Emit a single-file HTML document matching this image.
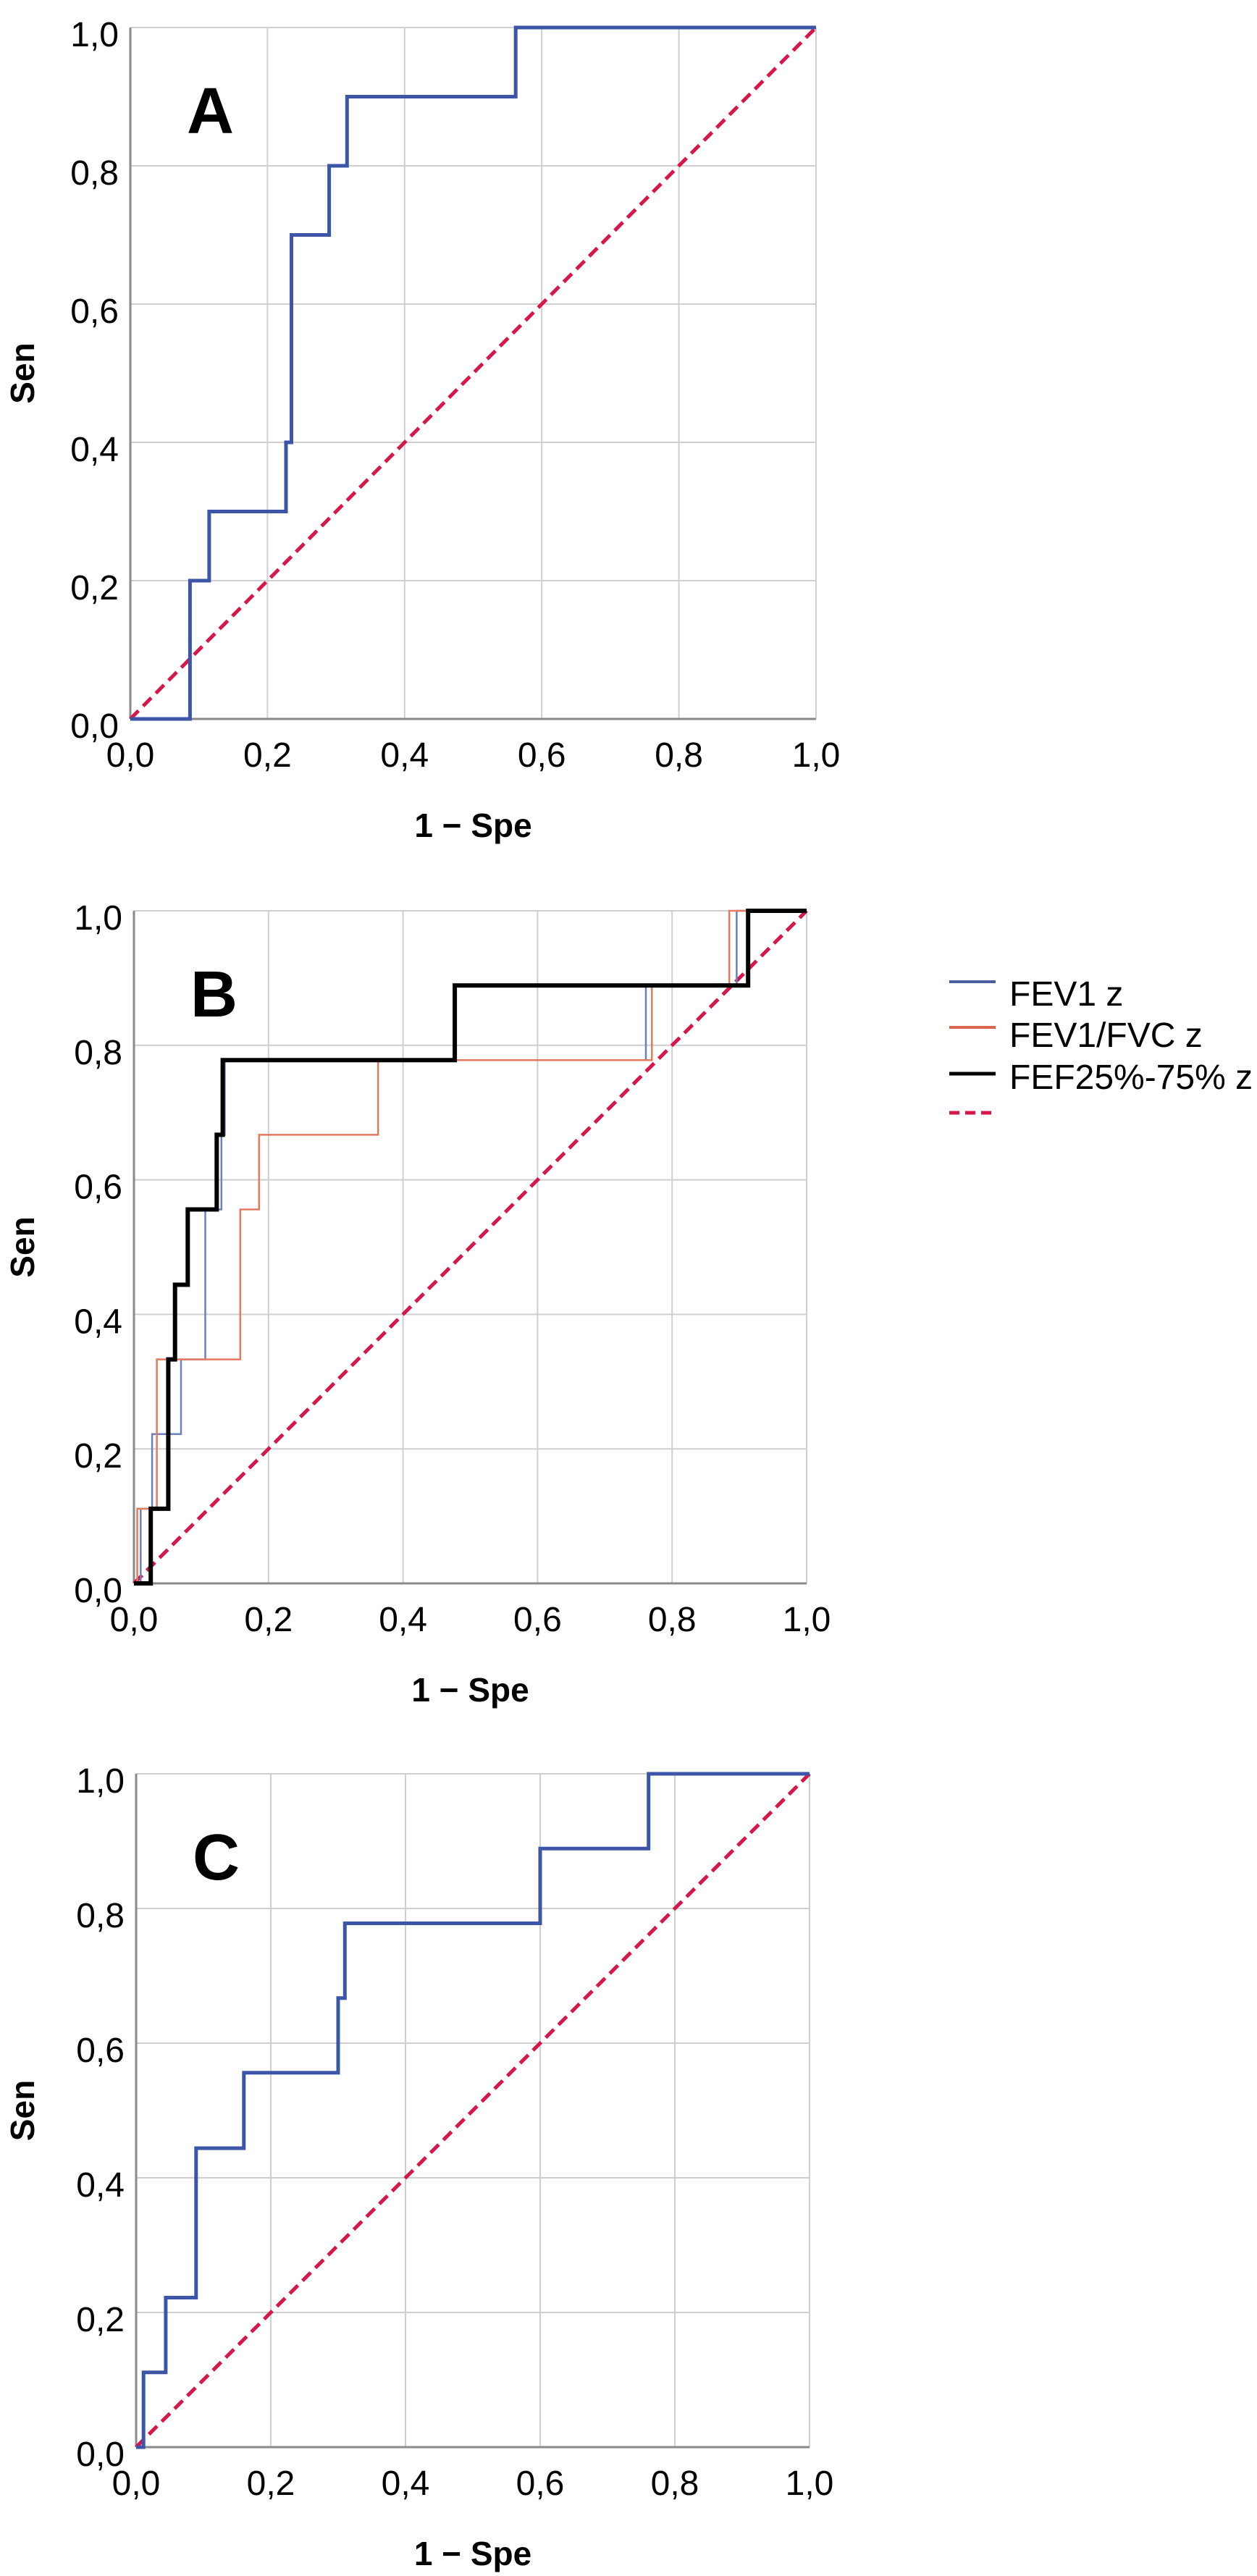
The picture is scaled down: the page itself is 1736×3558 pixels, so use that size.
<!DOCTYPE html>
<html><head><meta charset="utf-8">
<style>
html,body{margin:0;padding:0;background:#fff;}
svg{display:block;}
text{font-family:"Liberation Sans",Arial,sans-serif;}
</style></head>
<body>
<svg id="fig" width="1736" height="3558" viewBox="0 0 1736 3558" xmlns="http://www.w3.org/2000/svg">
<g id="legend">
  <g>
    <line x1="1311" y1="1356" x2="1375" y2="1356" stroke="#4a5f9e" stroke-width="4"/>
    <text x="1394" y="1389" font-size="48">FEV1 z</text>
  </g>
  <g>
    <line x1="1311" y1="1419" x2="1375" y2="1419" stroke="#d9664a" stroke-width="4"/>
    <text x="1394" y="1446" font-size="48">FEV1/FVC z</text>
  </g>
  <g>
    <line x1="1311" y1="1483" x2="1375" y2="1483" stroke="#000" stroke-width="5"/>
    <text x="1394" y="1504" font-size="48">FEF25%-75% z</text>
  </g>
  <g>
    <line x1="1311" y1="1537" x2="1375" y2="1537" stroke="#d6174a" stroke-width="5" stroke-dasharray="14,8"/>
  </g>
</g>
</svg>
<script>
// Panel A data (ROC vertices: 1 - specificity, sensitivity)
const aFpr = [0, 0.087, 0.087, 0.115, 0.115, 0.227, 0.227, 0.235, 0.235, 0.29, 0.29, 0.316, 0.316, 0.562, 0.562, 1];
const aTpr = [0, 0, 0.2, 0.2, 0.3, 0.3, 0.4, 0.4, 0.7, 0.7, 0.8, 0.8, 0.9, 0.9, 1, 1];
// Panel B data
const bFevFpr = [0, 0.01, 0.01, 0.027, 0.027, 0.07, 0.07, 0.106, 0.106, 0.13, 0.13, 0.135, 0.135, 0.761, 0.761, 0.896, 0.896, 1];
const bFevTpr = [0, 0, 0.111, 0.111, 0.222, 0.222, 0.333, 0.333, 0.556, 0.556, 0.667, 0.667, 0.778, 0.778, 0.889, 0.889, 1, 1];
const bRatioFpr = [0, 0.005, 0.005, 0.034, 0.034, 0.158, 0.158, 0.186, 0.186, 0.363, 0.363, 0.77, 0.77, 0.885, 0.885, 1];
const bRatioTpr = [0, 0, 0.111, 0.111, 0.333, 0.333, 0.556, 0.556, 0.667, 0.667, 0.778, 0.778, 0.889, 0.889, 1, 1];
const bFefFpr = [0, 0.025, 0.025, 0.051, 0.051, 0.061, 0.061, 0.08, 0.08, 0.123, 0.123, 0.132, 0.132, 0.477, 0.477, 0.913, 0.913, 1];
const bFefTpr = [0, 0, 0.111, 0.111, 0.333, 0.333, 0.444, 0.444, 0.556, 0.556, 0.667, 0.667, 0.778, 0.778, 0.889, 0.889, 1, 1];
// Panel C data
const cFpr = [0, 0.011, 0.011, 0.044, 0.044, 0.089, 0.089, 0.16, 0.16, 0.30, 0.30, 0.31, 0.31, 0.60, 0.60, 0.761, 0.761, 1];
const cTpr = [0, 0, 0.111, 0.111, 0.222, 0.222, 0.444, 0.444, 0.556, 0.556, 0.667, 0.667, 0.778, 0.778, 0.889, 0.889, 1, 1];
// Axis ticks
const tickValues = [0, 0.2, 0.4, 0.6, 0.8, 1.0];
const tickLabels = ["0,0", "0,2", "0,4", "0,6", "0,8", "1,0"];

const NS = "http://www.w3.org/2000/svg";
const svg = document.getElementById('fig');
function mk(tag, attrs, parent) {
  const e = document.createElementNS(NS, tag);
  for (const k in attrs) e.setAttribute(k, attrs[k]);
  (parent || svg).appendChild(e);
  return e;
}
function panel(id, L, R, T, B, letter, letterFont, series) {
  const g = mk('g', {});
  
  
  const sx = v => L + v * (R - L);
  const sy = v => B - v * (B - T);
  // grid
  tickValues.forEach((v, i) => {
    const gx = mk('line', {x1: sx(v), y1: T, x2: sx(v), y2: B, stroke: '#cfcfcf', 'stroke-width': 2}, g);
    
    
    const gy = mk('line', {x1: L, y1: sy(v), x2: R, y2: sy(v), stroke: '#cfcfcf', 'stroke-width': 2}, g);
    
    
    const tx = mk('text', {x: sx(v), y: B + 66, 'font-size': 48, 'text-anchor': 'middle'}, g);
    tx.textContent = tickLabels[i];
    
    
    const ty = mk('text', {x: L - 16, y: sy(v) + 26, 'font-size': 48, 'text-anchor': 'end'}, g);
    ty.textContent = tickLabels[i];
    
    
  });
  // axes
  const ax = mk('line', {x1: L, y1: B, x2: R, y2: B, stroke: '#8a8a8a', 'stroke-width': 3}, g);
  
  
  const ay = mk('line', {x1: L, y1: T, x2: L, y2: B, stroke: '#8a8a8a', 'stroke-width': 3}, g);
  
  
  // reference diagonal
  const ref = mk('line', {x1: sx(0), y1: sy(0), x2: sx(1), y2: sy(1), stroke: '#d6174a', 'stroke-width': 5, 'stroke-dasharray': '16,9'}, g);
  
  
  // series
  series.forEach(s => {
    const d = s.x.map((v, i) => (i ? 'L' : 'M') + sx(v).toFixed(1) + ' ' + sy(s.y[i]).toFixed(1)).join(' ');
    const p = mk('path', {d: d, fill: 'none', stroke: s.color, 'stroke-width': s.w, 'stroke-linejoin': 'miter'}, g);
    
    
  });
  // labels
  const lt = mk('text', {x: L + 78, y: T + 146, 'font-size': 90, 'font-weight': 'bold', 'font-family': letterFont}, g);
  lt.textContent = letter;
  
  
  const xt = mk('text', {x: (L + R) / 2, y: B + 163, 'font-size': 46, 'font-weight': 'bold', 'text-anchor': 'middle'}, g);
  xt.textContent = '1 \u2212 Spe';
  
  
  const cy = (T + B) / 2;
  const yt = mk('text', {x: 47, y: cy, 'font-size': 46, 'font-weight': 'bold', 'text-anchor': 'middle', transform: 'rotate(-90 47 ' + cy + ')'}, g);
  yt.textContent = 'Sen';
  
  
}
panel('a', 180, 1127, 38, 993, 'A', '"Liberation Sans", Arial, sans-serif',
  [{x: aFpr, y: aTpr, color: '#3d55a6', w: 5, name: 'roc-curve-a'}]);
panel('b', 185, 1114, 1258, 2187, 'B', '"Liberation Sans", Arial, sans-serif', [
  {x: bFevFpr, y: bFevTpr, color: '#6c80c0', w: 2.5, name: 'roc-curve-fev1'},
  {x: bRatioFpr, y: bRatioTpr, color: '#e27a5e', w: 2.5, name: 'roc-curve-fev1-fvc'},
  {x: bFefFpr, y: bFefTpr, color: '#000000', w: 6, name: 'roc-curve-fef'}
]);
panel('c', 188, 1118, 2450, 3380, 'C', '"DejaVu Sans", "Liberation Sans", sans-serif',
  [{x: cFpr, y: cTpr, color: '#3d55a6', w: 5, name: 'roc-curve-c'}]);
svg.appendChild(document.getElementById('legend'));
</script>
</body></html>
